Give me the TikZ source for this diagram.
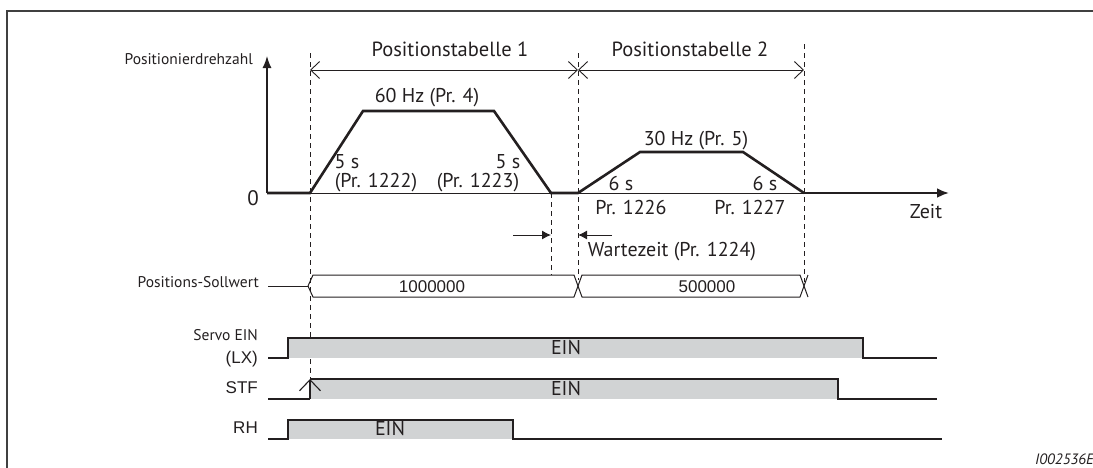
\documentclass[tikz,border=0pt]{standalone}
\usepackage{fontspec}
\setmainfont{PT Sans}
\newfontfamily\arialf{Liberation Sans}
\usetikzlibrary{arrows.meta}
\definecolor{ink}{HTML}{231F20}
\definecolor{sig}{HTML}{D1D3D4}
\definecolor{framec}{HTML}{404040}
\newcommand{\fs}[1]{\fontsize{#1}{#1}\selectfont}
\tikzset{
  lbl/.style={inner sep=0pt, text=ink},
  small/.style={lbl, font=\fs{15.5}},
  mid/.style={lbl, font=\fs{20}},
  big/.style={lbl, font=\fs{20.5}},
  ar/.style={lbl, font=\arialf\fs{17}},
  thinl/.style={draw=ink, line width=1pt},
  thickl/.style={draw=ink, line width=2.6pt, line join=miter},
  dashl/.style={draw=ink, line width=1pt, dash pattern=on 5pt off 4pt},
  dimar/.style={draw=ink, line width=0.9pt, {Straight Barb[length=9pt,width=17pt]}-{Straight Barb[length=9pt,width=17pt]}},
  waitar/.style={draw=ink, line width=1pt, -{Latex[length=9pt,width=9pt]}},
  hi/.style={fill=sig, draw=none},
  sigl/.style={draw=ink, line width=1.1pt},
}
\begin{document}
\begin{tikzpicture}[x=1pt,y=-1pt]
\useasboundingbox (0,0) rectangle (1093,467);
% frame
\coordinate (fTR) at (1100,11);
\coordinate (fTL) at (7,11);
\coordinate (fBL) at (7,475);
\draw[draw=framec, line width=1.6pt] (fTR) -- (fTL) -- (fBL);

% key coordinates
\coordinate (O) at (267,193);
\coordinate (Ytip) at (267,56);
\coordinate (t0) at (310,193);
\coordinate (p1) at (363,111);
\coordinate (p2) at (494,111);
\coordinate (t1) at (551,193);
\coordinate (t2) at (578,193);
\coordinate (p3) at (640,152);
\coordinate (p4) at (743,152);
\coordinate (t3) at (804,193);
\coordinate (Xtip) at (949,193);

% dashed verticals
\coordinate (d1a) at (310,53); \coordinate (d1b) at (310,379);
\coordinate (d2b) at (551,275);
\coordinate (d3a) at (578,53); \coordinate (d3b) at (578,280);
\coordinate (d4a) at (804,44); \coordinate (d4b) at (804,282);
\draw[dashl] (d1a) -- (d1b);
\draw[dashl] (t1) -- (d2b);
\draw[dashl] (d3a) -- (d3b);
\draw[dashl] (d4a) -- (d4b);

% axes
\draw[thinl] (t0) -- (t3);
\draw[draw=ink, line width=1.3pt, -{Latex[length=12pt,width=9pt]}] (O) -- (Ytip);
\draw[thickl] (O) -- (t0) -- (p1) -- (p2) -- (t1) -- (t2) -- (p3) -- (p4) -- (t3);
\draw[thickl, -{Latex[length=12pt,width=10pt]}] (t3) -- (Xtip);

\node[small, anchor=east] (ylab) at (253,59) {Positionierdrehzahl};
\node[lbl, font=\fs{21}, anchor=east] (zero) at (259,198) {0};
\node[mid] (zeit) at (926,212) {Zeit};

% dimension line
\coordinate (m1) at (310,70);
\coordinate (m2) at (578,70);
\coordinate (m3) at (804,70);
\draw[dimar] (m1) -- (m2);
\draw[dimar] (m2) -- (m3);
\node[big] (pt1) at (450,49) {Positionstabelle 1};
\node[big] (pt2) at (690,49) {Positionstabelle 2};

% speed labels
\node[mid] (hz60) at (427,98) {60 Hz (Pr. 4)};
\node[mid] (s1) at (347,162) {5 s};
\node[mid] (pr1222) at (376,183) {(Pr. 1222)};
\node[mid] (s2) at (508,162) {5 s};
\node[mid] (pr1223) at (478,183) {(Pr. 1223)};
\node[mid] (hz30) at (696,141) {30 Hz (Pr. 5)};
\node[mid] (s3) at (621,183) {6 s};
\node[mid] (pr1226) at (631,207) {Pr. 1226};
\node[mid] (s4) at (765,183) {6 s};
\node[mid] (pr1227) at (750,207) {Pr. 1227};

% waiting time
\coordinate (w1) at (513,235);
\coordinate (w1t) at (551,235);
\coordinate (w2) at (612,235);
\coordinate (w2t) at (578,235);
\draw[waitar] (w1) -- (w1t);
\draw[waitar] (w2) -- (w2t);
\node[mid] (wz) at (672,252) {Wartezeit (Pr. 1224)};

% Positions-Sollwert bus
\node[small, anchor=east] (psl) at (259,282) {Positions-Sollwert};
\coordinate (b0) at (268,286);
\coordinate (b1) at (308,286);
\draw[thinl] (b0) -- (b1);
\draw[thinl, line join=round] (b1) -- (313,275) -- (574,275) -- (582,297) -- (800,297) -- (808,275);
\draw[thinl, line join=round] (b1) -- (313,297) -- (574,297) -- (582,275) -- (800,275) -- (808,297);
\node[ar] (v1) at (432,287) {1000000};
\node[ar] (v2) at (707,287) {500000};

% Servo EIN (LX)
\fill[hi] (288,338) rectangle (863,358);
\draw[sigl] (268,358) -- (288,358) -- (288,338) -- (863,338) -- (863,358) -- (937,358);
\node[small, anchor=east] (servo) at (258,335) {Servo EIN};
\node[ar, anchor=east] (lx) at (258,359) {(LX)};
\node[lbl, font=\fs{20}] (ein1) at (566,347) {EIN};

% STF
\fill[hi] (310,379) rectangle (838,399);
\coordinate (stfL) at (268,399);
\coordinate (stfR) at (310,399);
\coordinate (stfU) at (310,379);
\draw[sigl] (stfL) -- (stfR);
\draw[sigl, -{Straight Barb[length=11pt,width=21pt]}] (stfR) -- (stfU);
\draw[sigl] (stfU) -- (838,379) -- (838,399) -- (937,399);
\node[ar, anchor=east] (stf) at (258,388) {STF};
\node[lbl, font=\fs{20}] (ein2) at (566,388) {EIN};

% RH
\fill[hi] (288,420) rectangle (513,439);
\draw[sigl] (268,439) -- (288,439) -- (288,420) -- (513,420) -- (513,439) -- (942,439);
\node[ar, anchor=east] (rh) at (258,428) {RH};
\node[lbl, font=\fs{20}] (ein3) at (390,428) {EIN};

% figure id
\node[lbl, font=\itshape\fs{15}, anchor=west] (fid) at (1035,459) {I002536E};
\end{tikzpicture}
\end{document}
